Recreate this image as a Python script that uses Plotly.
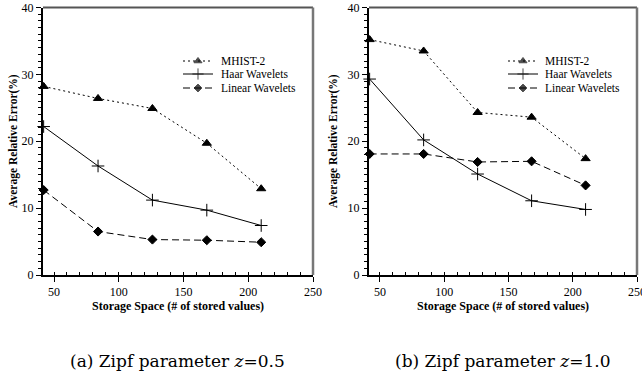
import plotly.graph_objects as go

storage = [42, 84, 126, 168, 210]
series_names = ["MHIST-2", "Haar Wavelets", "Linear Wavelets"]

# (a) z = 0.5
a_mhist = [28.2, 26.4, 24.9, 19.7, 12.9]
a_haar = [22.2, 16.3, 11.2, 9.7, 7.4]
a_linear = [12.7, 6.5, 5.3, 5.2, 4.9]

# (b) z = 1.0
b_mhist = [35.2, 33.5, 24.3, 23.6, 17.4]
b_haar = [29.3, 20.2, 15.1, 11.1, 9.8]
b_linear = [18.1, 18.1, 16.9, 17.0, 13.4]

x_ticks = [50, 100, 150, 200, 250]
y_ticks = [0, 10, 20, 30, 40]
captions = ["(a) Zipf parameter <i>z</i>=0.5", "(b) Zipf parameter <i>z</i>=1.0"]

W, H = 642, 375
SERIF = "Liberation Serif"
styles = [
    dict(dash="2px,3px", symbol="triangle-up", size=8),
    dict(dash="solid", symbol="cross-thin", size=9),
    dict(dash="7px,4px", symbol="diamond", size=7),
]

plot_x = [(43, 313), (369, 637)]
plot_y = (7.5, 275)
leg_line = [(183, 213, 219), (508, 538, 543)]
leg_rows = [61, 74, 88]

fig = go.Figure()

def px_x(p):
    return p / W

def px_y(p):
    return 1 - p / H

panels = [(a_mhist, a_haar, a_linear), (b_mhist, b_haar, b_linear)]
for i, data in enumerate(panels):
    xa = "x" if i == 0 else "x2"
    ya = "y" if i == 0 else "y2"
    for j, vals in enumerate(data):
        st = styles[j]
        fig.add_trace(go.Scatter(
            x=storage, y=vals, mode="lines+markers", name=series_names[j],
            xaxis=xa, yaxis=ya, showlegend=False, cliponaxis=False,
            line=dict(color="black", width=1, dash=st["dash"]),
            marker=dict(symbol=st["symbol"], size=st["size"], color="black",
                        line=dict(color="black", width=1)),
        ))
    # legend via overlay axes
    lx0, lx1, ltx = leg_line[i]
    lxa = "x%d" % (3 + i)
    lya = "y%d" % (3 + i)
    for j, name in enumerate(series_names):
        st = styles[j]
        ry = leg_rows[j]
        fig.add_trace(go.Scatter(
            x=[0, 0.5, 1], y=[1 - (ry - 50) / 50] * 3, mode="lines+markers",
            xaxis=lxa, yaxis=lya, showlegend=False, hoverinfo="skip",
            line=dict(color="black", width=1, dash=st["dash"]),
            marker=dict(symbol=st["symbol"], size=[0, st["size"] - 1, 0], color="black",
                        line=dict(color="black", width=1)),
        ))
        fig.add_annotation(x=px_x(ltx), y=px_y(ry), xref="paper", yref="paper",
                           text=name, showarrow=False, xanchor="left", yanchor="middle",
                           font=dict(family=SERIF, size=11.5, color="black"))

layout = dict(width=W, height=H, margin=dict(l=0, r=0, t=0, b=0, pad=0, autoexpand=False),
              paper_bgcolor="white", plot_bgcolor="white", showlegend=False)

for i in range(2):
    x0, x1 = plot_x[i]
    sfx = "" if i == 0 else "2"
    layout["xaxis" + sfx] = dict(
        domain=[px_x(x0), px_x(x1)], range=[41.5, 250], anchor="y" + sfx,
        tickvals=x_ticks, ticks="outside", ticklen=5, tickwidth=1, tickcolor="black",
        showline=True, linecolor="black", linewidth=1.5, showgrid=False, zeroline=False,
        automargin=False, ticklabeloverflow="allow",
        tickfont=dict(family=SERIF, size=12, color="black"),
        minor=dict(dtick=10, ticks="inside", ticklen=3, tickcolor="black", showgrid=False),
    )
    layout["yaxis" + sfx] = dict(
        domain=[px_y(plot_y[1]), px_y(plot_y[0])], range=[0, 40], anchor="x" + sfx,
        tickvals=y_ticks, ticks="outside", ticklen=5, tickwidth=1, tickcolor="black",
        showline=True, linecolor="black", linewidth=2, showgrid=False, zeroline=False,
        automargin=False,
        tickfont=dict(family=SERIF, size=12, color="black"),
        minor=dict(dtick=1, ticks="outside", ticklen=3, tickcolor="black", showgrid=False),
    )
    lx0, lx1, _ = leg_line[i]
    layout["xaxis%d" % (3 + i)] = dict(domain=[px_x(lx0), px_x(lx1)], range=[0, 1],
                                      visible=False, anchor="y%d" % (3 + i))
    layout["yaxis%d" % (3 + i)] = dict(domain=[px_y(100), px_y(50)], range=[0, 1],
                                      visible=False, anchor="x%d" % (3 + i))

fig.update_layout(**layout)

# top/right frame in gray
for i in range(2):
    sfx = "" if i == 0 else "2"
    fig.add_shape(type="line", xref="x%s domain" % sfx, yref="y%s domain" % sfx,
                  x0=0, x1=1, y0=1, y1=1, line=dict(color="#555", width=2))
    fig.add_shape(type="line", xref="x%s domain" % sfx, yref="y%s domain" % sfx,
                  x0=1, x1=1, y0=0, y1=1, line=dict(color="#777", width=2.5))
    x0, x1 = plot_x[i]
    cx = (x0 + x1) / 2
    fig.add_annotation(x=px_x(cx), y=px_y(306), xref="paper", yref="paper",
                       xanchor="center", yanchor="middle",
                       text="<b>Storage Space (# of stored values)</b>", showarrow=False,
                       font=dict(family=SERIF, size=12, color="black"))
    fig.add_annotation(x=px_x([13, 333][i]), y=px_y(141), xref="paper", yref="paper",
                       xanchor="center", yanchor="middle",
                       text="<b>Average Relative Error(%)</b>", showarrow=False, textangle=-90,
                       font=dict(family=SERIF, size=11.5, color="black"))
    fig.add_annotation(x=px_x([178, 503][i]), y=px_y(361), xref="paper", yref="paper",
                       xanchor="center", yanchor="middle",
                       text=captions[i], showarrow=False,
                       font=dict(family="DejaVu Serif", size=17, color="black"))

fig.write_html("out.html")
